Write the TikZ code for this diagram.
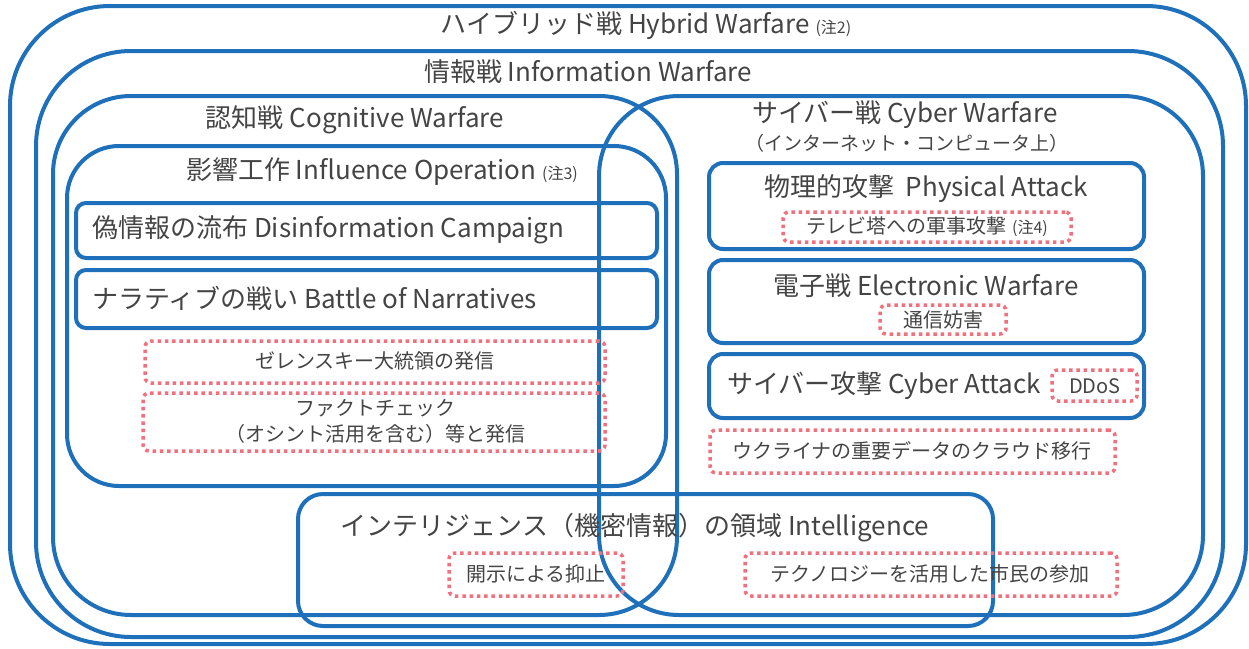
\documentclass[tikz,border=0pt]{standalone}
\usepackage{fontspec}
\setmainfont{Noto Sans CJK JP}
\usetikzlibrary{fit}
\definecolor{bl}{RGB}{31,112,186}
\definecolor{pk}{RGB}{240,112,126}
\definecolor{tx}{RGB}{68,68,68}
\newcommand\chu[1]{\hspace{6pt}{\fontsize{16}{16}\selectfont(注#1)}}
\begin{document}
\begin{tikzpicture}[x=1pt,y=-1pt,
 bbox/.style={draw=bl,line width=4pt,inner sep=0pt},
 dbox/.style={draw=pk,line width=3.5pt,dash pattern=on 3.5pt off 3.8pt,inner sep=0pt,rounded corners=6pt},
 big/.style={text=tx,font=\fontsize{26}{30}\selectfont,inner sep=0pt},
 sm/.style={text=tx,font=\fontsize{20}{24}\selectfont,inner sep=0pt}]
\useasboundingbox (0,0) rectangle (1249,648);
% containers
\node[bbox,rounded corners=100pt,fit={(10,6) (1246,644)}] (hyb) {};
\node[bbox,rounded corners=95pt,fit={(36,51) (1223,637)}] (info) {};
\node[bbox,rounded corners=78pt,fit={(53,96) (677,615)}] (cog) {};
\node[bbox,rounded corners=80pt,fit={(599,96) (1203,615)}] (cyb) {};
\node[bbox,rounded corners=52pt,fit={(67,146) (666,486)}] (infl) {};
\node[bbox,rounded corners=25pt,fit={(298,494) (993,626)}] (intel) {};
\node[bbox,rounded corners=10pt,fit={(76,203) (657,258)}] (disinfo) {};
\node[bbox,rounded corners=10pt,fit={(76,270) (657,328)}] (narr) {};
\node[bbox,rounded corners=14pt,fit={(709,163) (1144,249)}] (phys) {};
\node[bbox,rounded corners=14pt,fit={(709,260) (1144,343)}] (elec) {};
\node[bbox,rounded corners=14pt,fit={(709,354) (1144,418)}] (cyatk) {};
% dotted boxes
\node[dbox,fit={(145,341) (605,383)}] (zel) {};
\node[dbox,fit={(143,393) (605,451)}] (fact) {};
\node[dbox,fit={(783,212) (1071,242)}] (tv) {};
\node[dbox,fit={(880,305) (1006,334)}] (jam) {};
\node[dbox,fit={(1052,370) (1137,401)}] (ddos) {};
\node[dbox,fit={(710,430) (1115,473)}] (cloud) {};
\node[dbox,fit={(449,553) (623,596)}] (disc) {};
\node[dbox,fit={(745,553) (1117,596)}] (tech) {};
% labels
\node[big] (thyb) at (646,25) {ハイブリッド戦 Hybrid Warfare\chu{2}};
\node[big] (tinfo) at (588,72) {情報戦 Information Warfare};
\node[big] (tcog) at (355,120) {認知戦 Cognitive Warfare};
\node[big] (tcyb) at (905,115) {サイバー戦 Cyber Warfare};
\node[sm,font=\fontsize{19}{22}\selectfont] (tcyb2) at (907,143) {（インターネット・コンピュータ上）};
\node[big] (tinfl) at (382,172) {影響工作 Influence Operation\chu{3}};
\node[big,anchor=west] (tdis) at (92,230) {偽情報の流布 Disinformation Campaign};
\node[big,anchor=west] (tnarr) at (92,298) {ナラティブの戦い Battle of Narratives};
\node[sm] (tzel) at (375,361) {ゼレンスキー大統領の発信};
\node[sm,align=center,font=\fontsize{20}{26}\selectfont] (tfact) at (375,421) {ファクトチェック\\（オシント活用を含む）等と発信};
\node[big] (tphys) at (926,189) {物理的攻撃\ \ Physical Attack};
\node[sm] (ttv) at (927,227) {テレビ塔への軍事攻撃\chu{4}};
\node[big] (telec) at (926,286) {電子戦 Electronic Warfare};
\node[sm] (tjam) at (943,320) {通信妨害};
\node[big] (tcyatk) at (884,386) {サイバー攻撃 Cyber Attack};
\node[sm] (tddos) at (1095,386) {DDoS};
\node[sm] (tcloud) at (912,451) {ウクライナの重要データのクラウド移行};
\node[big] (tintel) at (635,528) {インテリジェンス（機密情報）の領域 Intelligence};
\node[sm] (tdisc) at (536,574) {開示による抑止};
\node[sm] (ttech) at (930,574) {テクノロジーを活用した市民の参加};
\end{tikzpicture}
\end{document}
